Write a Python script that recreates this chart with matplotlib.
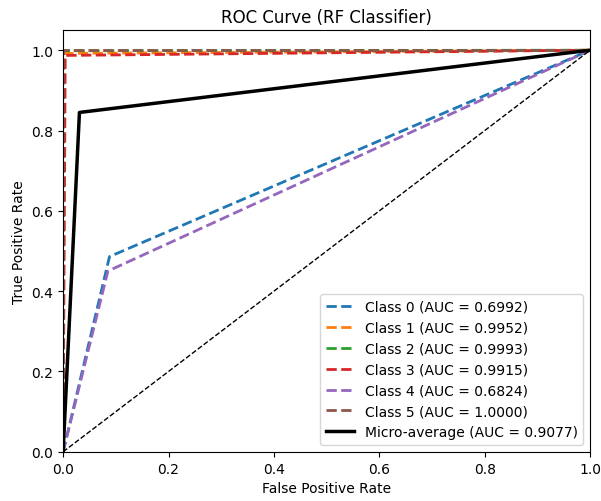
import numpy as np
from matplotlib import pyplot as plt

# ROC points (fpr, tpr) per class
class_names = ["Class 0", "Class 1", "Class 2", "Class 3", "Class 4", "Class 5"]
class_fpr = [[0.0, 0.088, 1.0], [0.0, 0.002, 1.0], [0.0, 0.0005, 1.0],
             [0.0, 0.004, 1.0], [0.0, 0.085, 1.0], [0.0, 0.0, 1.0]]
class_tpr = [[0.0, 0.486, 1.0], [0.0, 0.992, 1.0], [0.0, 0.9986, 1.0],
             [0.0, 0.987, 1.0], [0.0, 0.45, 1.0], [0.0, 1.0, 1.0]]
class_auc = [0.6992, 0.9952, 0.9993, 0.9915, 0.6824, 1.0000]
colors = ["tab:blue", "tab:orange", "tab:green", "tab:red", "tab:purple", "tab:brown"]

micro_fpr = [0.0, 0.031, 1.0]
micro_tpr = [0.0, 0.845, 1.0]
micro_auc = 0.9077

fig, ax = plt.subplots(figsize=(6.01, 5.02), dpi=100)
fig.subplots_adjust(left=0.105, right=0.982, top=0.938, bottom=0.098)

for name, fpr, tpr, auc, c in zip(class_names, class_fpr, class_tpr, class_auc, colors):
    ax.plot(fpr, tpr, linestyle="--", lw=2, color=c, label=f"{name} (AUC = {auc:.4f})")

ax.plot(micro_fpr, micro_tpr, color="black", lw=2.5, label=f"Micro-average (AUC = {micro_auc:.4f})")
ax.plot([0, 1], [0, 1], "k--", lw=1)

ax.set_xlim(0.0, 1.0)
ax.set_ylim(0.0, 1.05)
ax.set_xlabel("False Positive Rate")
ax.set_ylabel("True Positive Rate")
ax.set_title("ROC Curve (RF Classifier)")
ax.legend(loc="lower right")

fig.savefig("out.png")
